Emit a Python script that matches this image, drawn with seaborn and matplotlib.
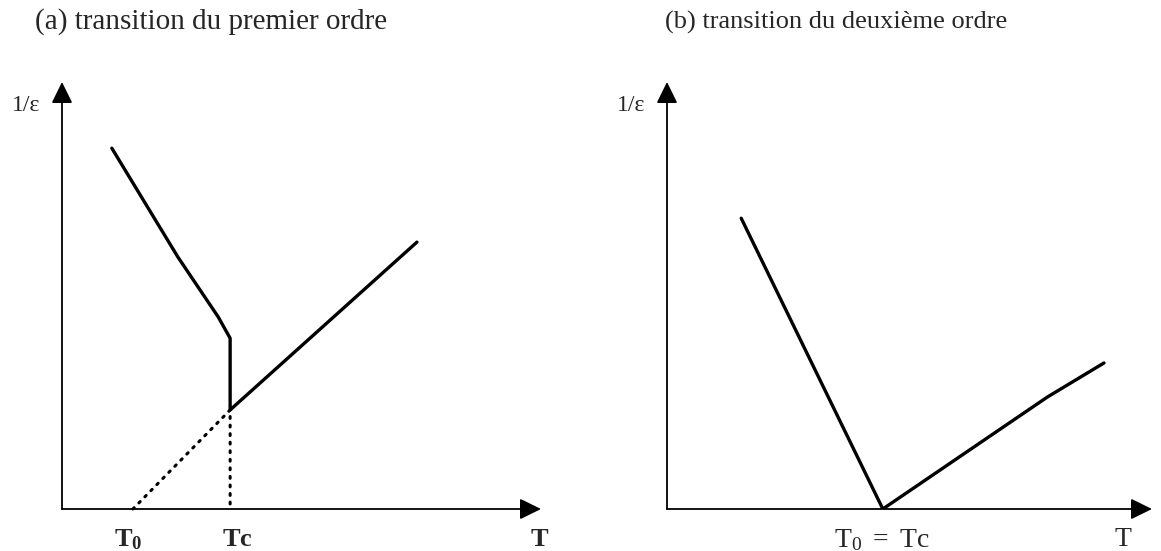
import numpy as np
import pandas as pd
import matplotlib
matplotlib.use("Agg")
import matplotlib.pyplot as plt
import seaborn as sns

# courbe 1/eps(T) - transition du premier ordre (a)
a_T = [1.04, 2.42, 3.26, 3.51, 3.51, 7.41]
a_inv_eps = [8.45, 5.90, 4.50, 4.00, 2.32, 6.25]
# prolongement en pointillés jusqu'à T0
a_T_dot = [1.48, 3.51, 3.51]
a_inv_dot = [0.0, 2.32, 0.0]

# courbe 1/eps(T) - transition du deuxième ordre (b)
b_T = [1.53, 4.45, 7.84, 9.01]
b_inv_eps = [6.81, 0.0, 2.62, 3.42]

# étiquettes de l'axe T
a_ticks = [1.38, 3.67, 9.98]
a_ticklabels = [r"$\mathbf{T_0}$", r"$\mathbf{Tc}$", r"$\mathbf{T}$"]
b_ticks = [4.43, 9.40]
b_ticklabels = [r"T$_0$ $=$ Tc", "T"]

titles = ["(a) transition du premier ordre", "(b) transition du deuxième ordre"]

sns.set_theme(style="white")
plt.rcParams["font.family"] = ["Liberation Serif", "DejaVu Serif"]
plt.rcParams["mathtext.fontset"] = "custom"
plt.rcParams["mathtext.rm"] = "Liberation Serif"
plt.rcParams["mathtext.it"] = "Liberation Serif:italic"
plt.rcParams["mathtext.bf"] = "Liberation Serif:bold"

W, H = 1161, 551
fig = plt.figure(figsize=(W / 100, H / 100), dpi=100)


def panel(x0, x1, y0=509, y1=82):
    ax = fig.add_axes([x0 / W, (H - y0) / H, (x1 - x0) / W, (y0 - y1) / H])
    ax.set_xlim(0, 10)
    ax.set_ylim(0, 10)
    ax.axis("off")
    arrow = dict(arrowstyle="-|>,head_length=0.65,head_width=0.32", color="black",
                 lw=1.3, shrinkA=0, shrinkB=0, mutation_scale=20)
    ax.annotate("", xy=(10, 0), xytext=(0, 0), arrowprops=arrow, annotation_clip=False)
    ax.annotate("", xy=(0, 10), xytext=(0, 0), arrowprops=arrow, annotation_clip=False)
    ax.text(-0.75, 9.45, "1/ε", ha="center", va="center", fontsize=17, clip_on=False)
    return ax


ax1 = panel(62, 541)
df_a = pd.DataFrame({"T": a_T, "inv": a_inv_eps})
sns.lineplot(data=df_a, x="T", y="inv", sort=False, estimator=None, color="black",
             lw=2.4, ax=ax1)
ax1.plot(a_T_dot, a_inv_dot, color="black", lw=2.2, ls=(0, (0.6, 2.2)),
         dash_capstyle="round", clip_on=False)
for x, s in zip(a_ticks, a_ticklabels):
    ax1.text(x, -0.72, s, ha="center", va="center", fontsize=19, clip_on=False)
ax1.axis("off")

ax2 = panel(667, 1152)
df_b = pd.DataFrame({"T": b_T, "inv": b_inv_eps})
sns.lineplot(data=df_b, x="T", y="inv", sort=False, estimator=None, color="black",
             lw=2.4, ax=ax2)
for x, s in zip(b_ticks, b_ticklabels):
    ax2.text(x, -0.72, s, ha="center", va="center", fontsize=20, clip_on=False)
ax2.axis("off")

fig.text(35 / W, 1 - 22 / H, titles[0], ha="left", va="center", fontsize=21)
fig.text(665 / W, 1 - 22 / H, titles[1], ha="left", va="center", fontsize=19)

plt.savefig("out.png", dpi=100, facecolor="white")
